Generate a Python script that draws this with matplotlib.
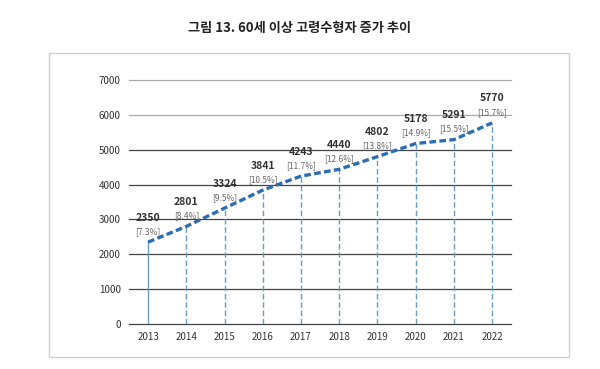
import matplotlib.pyplot as plt
from matplotlib.patches import Rectangle

years = ['2013', '2014', '2015', '2016', '2017', '2018', '2019', '2020', '2021', '2022']
counts = [2350, 2801, 3324, 3841, 4243, 4440, 4802, 5178, 5291, 5770]
shares = ['7.3%', '8.4%', '9.5%', '10.5%', '11.7%', '12.6%', '13.8%', '14.9%', '15.5%', '15.7%']
yticks = [0, 1000, 2000, 3000, 4000, 5000, 6000, 7000]

plt.rcParams['font.family'] = ['Noto Sans CJK KR', 'DejaVu Sans']

fig = plt.figure(figsize=(6, 3.69), dpi=100)
ax = fig.add_axes([0.215, 0.122, 0.637, 0.661])

# outer frame
fig.patches.append(Rectangle((49 / 600, 1 - 357 / 369), 520 / 600, 304 / 369,
                             transform=fig.transFigure, fill=False,
                             edgecolor='#d0d0d0', linewidth=1))

fig.text(0.5, 1 - 28 / 369, '그림 13. 60세 이상 고령수형자 증가 추이',
         ha='center', va='center', fontsize=9.5, fontweight='bold', color='#222222')

x = list(range(len(years)))

for t in yticks:
    c = '#aaaaaa' if t >= 6000 else '#444444'
    ax.axhline(t, color=c, linewidth=0.9, zorder=1, clip_on=False)

for i, v in enumerate(counts):
    ax.plot([i, i], [0, v], color='#6a9cc0', linewidth=1.0,
            linestyle=(0, (4, 2)) if i > 0 else '-', zorder=2)

ax.plot(x, counts, color='#2a6db5', linewidth=2.4, linestyle=(0, (2, 1)), zorder=3)

for i, (v, s) in enumerate(zip(counts, shares)):
    ax.annotate(str(v), (i, v), xytext=(0, 14), textcoords='offset points',
                ha='center', va='bottom', fontsize=7.5, fontweight='bold', color='#333333')
    ax.annotate('[' + s + ']', (i, v), xytext=(0, 4.5), textcoords='offset points',
                ha='center', va='bottom', fontsize=6, color='#666666')

ax.set_xlim(-0.5, 9.5)
ax.set_ylim(0, 7000)
ax.set_xticks(x)
ax.set_xticklabels(years)
ax.set_yticks(yticks)
ax.tick_params(length=0, labelsize=7, colors='#333333', pad=6)
for sp in ax.spines.values():
    sp.set_visible(False)

fig.savefig('out.png', dpi=100)
